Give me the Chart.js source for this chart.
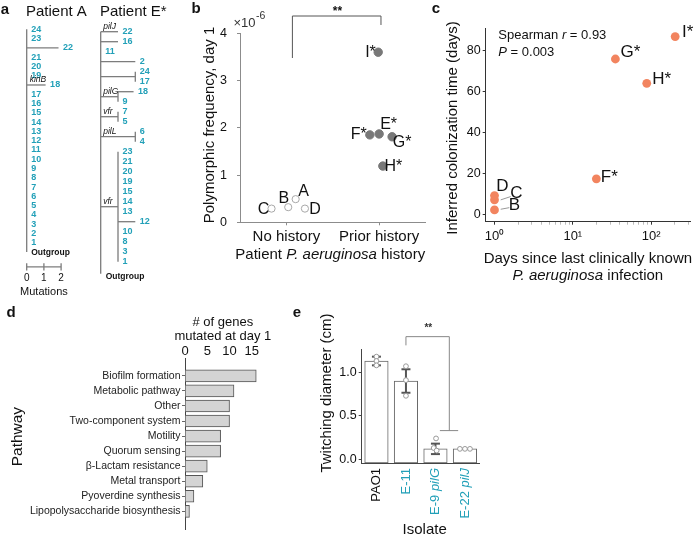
<!DOCTYPE html>
<html>
<head>
<meta charset="utf-8">
<script src="https://cdn.jsdelivr.net/npm/chart.js@4.4.1/dist/chart.umd.min.js"></script>
<style>
  html, body { margin: 0; padding: 0; background: #fff; }
  #fig { position: relative; width: 698px; height: 537px; overflow: hidden; }
  canvas { position: absolute; }
</style>
</head>
<body>
<div id="fig">
  <canvas id="treeA" width="95" height="300" style="left:0;top:0"></canvas>
  <canvas id="treeE" width="100" height="290" style="left:95px;top:0"></canvas>
  <canvas id="panelB" width="250" height="300" style="left:185px;top:0"></canvas>
  <canvas id="panelC" width="288" height="300" style="left:410px;top:0"></canvas>
  <canvas id="panelD" width="280" height="237" style="left:0;top:300px"></canvas>
  <canvas id="panelE" width="205" height="237" style="left:280px;top:300px"></canvas>
</div>
<script>
// ---------- data ----------
// a: phylogenies (branch lengths in mutations, leaves listed top to bottom)
const treeALeaves = ['24','23','22','21','20','19','18','17','16','15','14','13','12','11','10','9','8','7','6','5','4','3','2','1'];
const treeABranch = [0, 0, 1.85, 0, 0, 0, 1.1, 0, 0, 0, 0, 0, 0, 0, 0, 0, 0, 0, 0, 0, 0, 0, 0, 0];
const treeAGeneLeaf = ['18'];
const treeAGeneName = ['kinB'];
const scaleBarTicks = [0, 1, 2];

const treeELeaves = ['22','16','11','2','24','17','18','9','7','5','6','4','23','21','20','19','15','14','13','12','10','8','3','1'];
const treeEClade  = [-1, -1, -1, -1, 0, 0, 1, 1, 2, 2, 3, 3, 4, 4, 4, 4, 4, 4, 4, 4, 4, 4, 4, 4];
const treeETip    = [1, 1, 0, 2, 2, 2, 1.9, 1, 1, 1, 2, 2, 1, 1, 1, 1, 1, 1, 1, 2, 1, 1, 1, 1];
const treeECladeDepth = [2, 1, 1, 2, 1];
const treeECladeGene  = ['', 'pilG', 'vfr', 'pilL', 'vfr'];
const treeEGeneLeaf = ['22'];
const treeEGeneName = ['pilJ'];

// b: polymorphic frequency (x 10^-6)
const bCategories = ['No history', 'Prior history'];
const bPatients = ['A', 'B', 'C', 'D', 'E*', 'F*', 'G*', 'H*', 'I*'];
const bGroup = [0, 0, 0, 0, 1, 1, 1, 1, 1];
const bFreq = [0.49, 0.32, 0.29, 0.29, 1.87, 1.85, 1.81, 1.19, 3.60];
const bYTicks = [0, 1, 2, 3, 4];

// c: colonization time vs days since last infection
const cPatients = ['B', 'C', 'D', 'F*', 'G*', 'H*', 'I*'];
const cDays = [1, 1, 1, 20, 35, 88, 203];
const cColonization = [2.4, 7.3, 9.4, 17.5, 75.7, 63.9, 86.6];
const cXTicks = [1, 10, 100];
const cXTickLabels = ['10⁰', '10¹', '10²'];
const cYTicks = [0, 20, 40, 60, 80];

// d: genes mutated per pathway
const dPathways = ['Biofilm formation', 'Metabolic pathway', 'Other', 'Two-component system', 'Motility',
  'Quorum sensing', 'β-Lactam resistance', 'Metal transport', 'Pyoverdine synthesis', 'Lipopolysaccharide biosynthesis'];
const dGenes = [16, 11, 10, 10, 8, 8, 5, 4, 2, 1];
const dXTicks = [0, 5, 10, 15];

// e: twitching motility
const eIsolates = ['PAO1', 'E-11', 'E-9', 'E-22'];
const eGenes = ['', '', 'pilG', 'pilJ'];
const eMean = [1.13, 0.90, 0.12, 0.12];
const eSd = [0.05, 0.135, 0.06, 0];
const eReps = [[1.18, 1.13, 1.08], [1.07, 0.91, 0.73], [0.24, 0.13, 0.10], [0.12, 0.12, 0.12]];
const eYTicks = [0, 0.5, 1.0];

// ---------- styling / layout ----------
const FONT = "'Liberation Sans', Arial, Helvetica, sans-serif";
const CYAN = '#22a0b8';
const CORAL = '#f2845f';
const TREE = '#7c7c7c';

// label offsets (px) around the points
const bLabelDx = [8, -4.5, -8, 10, 9.5, -11, 10, 10.5, -7.7];
const bLabelDy = [-7.6, -8.3, 1.3, 1.3, -9, 0, 5.6, 0.7, 0];
const bJitter = [0.10, 0.02, -0.16, 0.20, 0.00, -0.10, 0.14, 0.04, -0.01];
const cLabelDx = [20, 22, 8, 13, 15, 15, 12.6];
const cLabelDy = [-4.5, -7, -9, -1.5, -6.7, -4.3, -4.4];
const eJitter = [[0, 0, 0], [0, 0, 0], [0.02, -0.06, 0.04], [-0.17, 0, 0.17]];

Chart.defaults.font.family = FONT;
Chart.defaults.color = '#222';
Chart.defaults.animation = false;
Chart.defaults.responsive = false;
Chart.defaults.plugins.legend.display = false;
Chart.defaults.plugins.tooltip.enabled = false;
Chart.defaults.events = [];

function text(ctx, parts, x, y, size, o = {}) {
  ctx.save();
  ctx.translate(x, y);
  if (o.rotate) ctx.rotate(o.rotate);
  ctx.textBaseline = o.baseline || 'middle';
  ctx.textAlign = 'left';
  ctx.fillStyle = o.color || '#111';
  const f = s => (s ? s + ' ' : '') + size + 'px ' + FONT;
  const widths = parts.map(([t, s]) => { ctx.font = f(s); return ctx.measureText(t).width; });
  const total = widths.reduce((a, b) => a + b, 0);
  let cx = o.align === 'left' ? 0 : o.align === 'right' ? -total : -total / 2;
  parts.forEach(([t, s], i) => { ctx.font = f(s); ctx.fillText(t, cx, 0); cx += widths[i]; });
  ctx.restore();
  return total;
}

function line(ctx, pts, color, w) {
  ctx.save();
  ctx.strokeStyle = color;
  ctx.lineWidth = w;
  ctx.beginPath();
  pts.forEach(([px, py], i) => i ? ctx.lineTo(px, py) : ctx.moveTo(px, py));
  ctx.stroke();
  ctx.restore();
}

// axis bounds so that value 0 lands on originPx
function span(originPx, pxPerUnit, sizePx) {
  return { min: -originPx / pxPerUnit, max: (sizePx - originPx) / pxPerUnit };
}

function seg(a, b) {
  return {
    data: [{ x: a[0], y: a[1] }, { x: b[0], y: b[1] }],
    showLine: true, borderColor: TREE, borderWidth: 1.3, pointRadius: 0, clip: false
  };
}

function hiddenScales(xs, ys) {
  return {
    x: { type: 'linear', display: false, ...xs },
    y: { type: 'linear', display: false, reverse: true, ...ys }
  };
}

// ---------- a: patient A tree ----------
const SB_ROW = 25.6;
const segA = [seg([0, 0], [0, treeALeaves.length])];
treeABranch.forEach((len, i) => { if (len > 0) segA.push(seg([0, i], [len, i])); });
segA.push(seg([scaleBarTicks[0], SB_ROW], [scaleBarTicks[scaleBarTicks.length - 1], SB_ROW]));
scaleBarTicks.forEach(t => segA.push(seg([t, SB_ROW - 0.38], [t, SB_ROW + 0.38])));

new Chart(document.getElementById('treeA'), {
  type: 'scatter',
  data: { datasets: segA },
  options: {
    layout: { autoPadding: false },
    scales: hiddenScales(span(26.7, 17.2, 95), span(29.3, 9.28, 300))
  },
  plugins: [{
    id: 'treeALabels',
    afterDraw(chart) {
      const { ctx, scales: { x, y } } = chart;
      text(ctx, [['a', 'bold']], 5, 10, 15);
      text(ctx, [['Patient A', '']], 26, 12, 15, { align: 'left' });
      treeALeaves.forEach((leaf, i) =>
        text(ctx, [[leaf, 'bold']], x.getPixelForValue(treeABranch[i]) + 4.5, y.getPixelForValue(i), 9, { align: 'left', color: CYAN }));
      text(ctx, [['Outgroup', 'bold']], x.getPixelForValue(0) + 4.5, y.getPixelForValue(treeALeaves.length) + 0.5, 8.5, { align: 'left' });
      treeAGeneLeaf.forEach((leaf, k) => {
        const i = treeALeaves.indexOf(leaf);
        text(ctx, [[treeAGeneName[k], 'italic']], x.getPixelForValue(0) + 3, y.getPixelForValue(i) - 1.5, 8.5, { align: 'left', baseline: 'bottom' });
      });
      scaleBarTicks.forEach(t => text(ctx, [[String(t), '']], x.getPixelForValue(t), y.getPixelForValue(SB_ROW) + 11, 10));
      const mid = (x.getPixelForValue(scaleBarTicks[0]) + x.getPixelForValue(scaleBarTicks[scaleBarTicks.length - 1])) / 2;
      text(ctx, [['Mutations', '']], mid, y.getPixelForValue(SB_ROW) + 25, 11);
    }
  }]
});

// ---------- a: patient E* tree ----------
const E_OUT_ROW = 24.2;
const segE = [seg([0, 0], [0, E_OUT_ROW])];
treeELeaves.forEach((leaf, i) => {
  if (treeEClade[i] < 0 && treeETip[i] > 0) segE.push(seg([0, i], [treeETip[i], i]));
});
const cladeRows = treeECladeDepth.map((d, c) => treeEClade.map((k, i) => k === c ? i : -1).filter(i => i >= 0));
treeECladeDepth.forEach((d, c) => {
  const rows = cladeRows[c];
  const lo = Math.min(...rows), hi = Math.max(...rows), mid = (lo + hi) / 2;
  segE.push(seg([0, mid], [d, mid]));
  segE.push(seg([d, lo], [d, hi]));
  rows.forEach(i => { if (treeETip[i] > d) segE.push(seg([d, i], [treeETip[i], i])); });
});

new Chart(document.getElementById('treeE'), {
  type: 'scatter',
  data: { datasets: segE },
  options: {
    layout: { autoPadding: false },
    scales: hiddenScales(span(5.7, 17.3, 100), span(31.7, 10.0, 290))
  },
  plugins: [{
    id: 'treeELabels',
    afterDraw(chart) {
      const { ctx, scales: { x, y } } = chart;
      text(ctx, [['Patient E*', '']], 5, 12, 15, { align: 'left' });
      treeELeaves.forEach((leaf, i) =>
        text(ctx, [[leaf, 'bold']], x.getPixelForValue(treeETip[i]) + 4.5, y.getPixelForValue(i), 9, { align: 'left', color: CYAN }));
      text(ctx, [['Outgroup', 'bold']], x.getPixelForValue(0) + 5, y.getPixelForValue(E_OUT_ROW) + 3, 8.5, { align: 'left' });
      const x0 = x.getPixelForValue(0) + 2.5;
      treeEGeneLeaf.forEach((leaf, k) => {
        const i = treeELeaves.indexOf(leaf);
        text(ctx, [[treeEGeneName[k], 'italic']], x0, y.getPixelForValue(i) - 1.2, 8.5, { align: 'left', baseline: 'bottom' });
      });
      treeECladeGene.forEach((g, c) => {
        if (!g) return;
        const rows = cladeRows[c];
        const mid = (Math.min(...rows) + Math.max(...rows)) / 2;
        text(ctx, [[g, 'italic']], x0, y.getPixelForValue(mid) - 1.2, 8.5, { align: 'left', baseline: 'bottom' });
      });
    }
  }]
});

// ---------- b ----------
const AX_B = '#8c8c8c';
new Chart(document.getElementById('panelB'), {
  type: 'scatter',
  data: {
    datasets: [{
      data: bFreq.map((v, i) => ({ x: bGroup[i] + 1 + bJitter[i], y: v })),
      pointRadius: c => bGroup[c.dataIndex] ? 4.2 : 3.6,
      pointBackgroundColor: c => bGroup[c.dataIndex] ? '#787878' : '#fff',
      pointBorderColor: c => bGroup[c.dataIndex] ? '#787878' : '#a8a8a8',
      pointBorderWidth: 1,
      clip: false
    }]
  },
  options: {
    layout: { autoPadding: false, padding: { left: 0, top: 33.3, right: 9.5, bottom: 0 } },
    scales: {
      x: {
        type: 'linear', min: 0.5, max: 2.5,
        afterFit: s => { s.height = 300 - 222.3; },
        afterBuildTicks: s => { s.ticks = bCategories.map((c, i) => ({ value: i + 1 })); },
        ticks: { callback: v => bCategories[v - 1], font: { size: 15 }, padding: 2.4, maxRotation: 0, autoSkip: false, color: '#111' },
        grid: { display: true, drawOnChartArea: false, tickLength: 3, color: AX_B },
        border: { color: AX_B }
      },
      y: {
        min: 0, max: 4,
        afterFit: s => { s.width = 55; },
        afterBuildTicks: s => { s.ticks = bYTicks.map(v => ({ value: v })); },
        ticks: { font: { size: 12.5 }, padding: 10, color: '#111' },
        grid: { display: true, drawOnChartArea: false, tickLength: 3, color: AX_B },
        border: { color: AX_B }
      }
    }
  },
  plugins: [{
    id: 'bAnnot',
    afterDraw(chart) {
      const { ctx, chartArea: ca, scales: { x, y } } = chart;
      text(ctx, [['b', 'bold']], 11, 9, 15);
      const w = text(ctx, [['×10', '']], ca.left - 6.5, ca.top - 10, 13, { align: 'left', color: '#333' });
      text(ctx, [['-6', '']], ca.left - 6 + w, ca.top - 17, 10.5, { align: 'left', color: '#333' });
      text(ctx, [['Polymorphic frequency, day 1', '']], ca.left - 30, (ca.top + ca.bottom) / 2 - 2.8, 15, { rotate: -Math.PI / 2 });
      text(ctx, [['Patient ', ''], ['P. aeruginosa', 'italic'], [' history', '']], (ca.left + ca.right) / 2 - 2.5, ca.bottom + 33, 15);
      const meta = chart.getDatasetMeta(0);
      meta.data.forEach((pt, i) => text(ctx, [[bPatients[i], '']], pt.x + bLabelDx[i], pt.y + bLabelDy[i], 16));
      const xl = x.getPixelForValue(1.065), xr = x.getPixelForValue(2.02), yt = y.getPixelForValue(4.366);
      line(ctx, [[xl, y.getPixelForValue(3.477)], [xl, yt], [xr, yt], [xr, y.getPixelForValue(4.176)]], '#555', 1);
      text(ctx, [['**', 'bold']], x.getPixelForValue(1.55), y.getPixelForValue(4.45), 12);
    }
  }]
});

// ---------- c ----------
const AX_C = '#333';
new Chart(document.getElementById('panelC'), {
  type: 'scatter',
  data: {
    datasets: [{
      data: cDays.map((d, i) => ({ x: d, y: cColonization[i] })),
      pointRadius: 4.4, pointBackgroundColor: CORAL, pointBorderWidth: 0, clip: false
    }]
  },
  options: {
    layout: { autoPadding: false, padding: { left: 0, top: 28.3, right: 8, bottom: 0 } },
    scales: {
      x: {
        type: 'logarithmic', min: 0.772, max: 314,
        afterFit: s => { s.height = 300 - 221.7; },
        afterBuildTicks: s => {
          const t = [];
          cXTicks.forEach(d => { for (let k = 1; k <= 9; k++) { const v = k * d; if (v >= s.min && v <= s.max) t.push({ value: v, major: k === 1 }); } });
          s.ticks = t;
        },
        ticks: {
          callback: v => { const i = cXTicks.indexOf(v); return i >= 0 ? cXTickLabels[i] : ''; },
          font: { size: 13 }, padding: 4, maxRotation: 0, autoSkip: false, color: '#111'
        },
        grid: {
          display: true, drawOnChartArea: false, tickLength: 3,
          tickColor: c => c.tick && cXTicks.includes(c.tick.value) ? AX_C : '#bbb'
        },
        border: { color: AX_C }
      },
      y: {
        min: -3.3, max: 90.6,
        afterFit: s => { s.width = 75.7; },
        afterBuildTicks: s => { s.ticks = cYTicks.map(v => ({ value: v })); },
        ticks: { font: { size: 12.5 }, padding: 2, color: '#111' },
        grid: { display: true, drawOnChartArea: false, tickLength: 3, color: AX_C },
        border: { color: AX_C }
      }
    }
  },
  plugins: [{
    id: 'cAnnot',
    afterDraw(chart) {
      const { ctx, chartArea: ca } = chart;
      text(ctx, [['c', 'bold']], 26, 9, 15);
      text(ctx, [['Spearman ', ''], ['r', 'italic'], [' = 0.93', '']], ca.left + 12.6, ca.top + 6.7, 13, { align: 'left' });
      text(ctx, [['P', 'italic'], [' = 0.003', '']], ca.left + 12.6, ca.top + 23.7, 13, { align: 'left' });
      text(ctx, [['Inferred colonization time (days)', '']], ca.left - 32.7, (ca.top + ca.bottom) / 2 + 3, 15, { rotate: -Math.PI / 2 });
      const cx = (ca.left + ca.right) / 2;
      text(ctx, [['Days since last clinically known', '']], cx, ca.bottom + 37, 15);
      text(ctx, [['P. aeruginosa', 'italic'], [' infection', '']], cx, ca.bottom + 54.5, 15);
      const meta = chart.getDatasetMeta(0);
      meta.data.forEach((pt, i) => text(ctx, [[cPatients[i], '']], pt.x + cLabelDx[i], pt.y + cLabelDy[i], 17));
      const pc = meta.data[cPatients.indexOf('C')], pb = meta.data[cPatients.indexOf('B')];
      line(ctx, [[pc.x + 6.2, pc.y], [pc.x + 16.2, pc.y - 3.3]], '#999', 1);
      line(ctx, [[pb.x + 6.2, pb.y - 0.7], [pb.x + 14.8, pb.y - 2.3]], '#999', 1);
    }
  }]
});

// ---------- d ----------
new Chart(document.getElementById('panelD'), {
  type: 'bar',
  data: {
    datasets: [{
      data: dGenes.map((v, i) => ({ x: v, y: i })),
      backgroundColor: '#d4d4d4', borderColor: '#555', borderWidth: 1, borderSkipped: false, barThickness: 12
    }]
  },
  options: {
    indexAxis: 'y',
    layout: { autoPadding: false, padding: { left: 0, top: 0, right: 19.3, bottom: 7 } },
    scales: {
      x: {
        type: 'linear', position: 'top', min: 0, max: 17, offset: false,
        afterFit: s => { s.height = 58; },
        afterBuildTicks: s => { s.ticks = dXTicks.map(v => ({ value: v })); },
        ticks: { font: { size: 13, lineHeight: 1 }, padding: 0, maxRotation: 0, color: '#111' },
        grid: { display: false, drawTicks: false },
        border: { display: false }
      },
      y: {
        type: 'linear', reverse: true, min: -1.19, max: 10.19, offset: false,
        afterFit: s => { s.width = 185; },
        afterBuildTicks: s => { s.ticks = dPathways.map((p, i) => ({ value: i })); },
        ticks: { callback: v => dPathways[v], font: { size: 10.5 }, padding: 1.5, autoSkip: false, color: '#222' },
        grid: { display: true, drawOnChartArea: false, offset: false, tickLength: 3, color: '#666' },
        border: { color: '#444' }
      }
    }
  },
  plugins: [{
    id: 'dAnnot',
    afterDraw(chart) {
      const { ctx, chartArea: ca } = chart;
      text(ctx, [['d', 'bold']], 11, 13, 15);
      const cx = (ca.left + ca.right) / 2;
      text(ctx, [['# of genes', '']], cx, ca.top - 36, 13);
      text(ctx, [['mutated at day 1', '']], cx, ca.top - 22, 13);
      text(ctx, [['Pathway', '']], 18, (ca.top + ca.bottom) / 2 - 7, 15.5, { rotate: -Math.PI / 2 });
    }
  }]
});

// ---------- e ----------
const E_Y_MIN = -0.0425;
new Chart(document.getElementById('panelE'), {
  type: 'bar',
  data: {
    datasets: [{
      type: 'bar', order: 2,
      data: eMean.map((m, i) => ({ x: i, y: m })),
      base: E_Y_MIN,
      backgroundColor: '#fff', borderColor: '#666', borderWidth: 1, borderSkipped: false, barThickness: 23.5
    }, {
      type: 'scatter', order: 1,
      data: eReps.flatMap((r, i) => r.map((v, k) => ({ x: i + eJitter[i][k], y: v }))),
      pointRadius: 2.4, pointBackgroundColor: '#fff', pointBorderColor: '#999', pointBorderWidth: 1
    }]
  },
  options: {
    layout: { autoPadding: false, padding: { left: 0, top: 49, right: 5.3, bottom: 0 } },
    scales: {
      x: {
        type: 'linear', min: -0.5, max: 3.5, offset: false,
        afterFit: s => { s.height = 74; },
        ticks: { display: false },
        grid: { display: false, drawTicks: false, offset: false },
        border: { color: '#444' }
      },
      y: {
        min: E_Y_MIN, max: 1.268,
        afterFit: s => { s.width = 81.7; },
        afterBuildTicks: s => { s.ticks = eYTicks.map(v => ({ value: v })); },
        ticks: { callback: v => v.toFixed(1), font: { size: 12.5 }, padding: 2, color: '#111' },
        grid: { display: true, drawOnChartArea: false, tickLength: 3, color: '#444' },
        border: { color: '#444' }
      }
    }
  },
  plugins: [{
    id: 'eAnnot',
    afterDatasetDraw(chart, args) {
      if (args.index !== 0) return;
      const { ctx, scales: { x, y } } = chart;
      eMean.forEach((m, i) => {
        if (!eSd[i]) return;
        const px = x.getPixelForValue(i), lo = y.getPixelForValue(m - eSd[i]), hi = y.getPixelForValue(m + eSd[i]);
        line(ctx, [[px, lo], [px, hi]], '#555', 2);
        line(ctx, [[px - 4.5, lo], [px + 4.5, lo]], '#555', 2);
        line(ctx, [[px - 4.5, hi], [px + 4.5, hi]], '#555', 2);
      });
    },
    afterDraw(chart) {
      const { ctx, chartArea: ca, scales: { x, y } } = chart;
      text(ctx, [['e', 'bold']], 17, 13, 15);
      const yt = y.getPixelForValue(1.41), xr = x.getPixelForValue(2.47), yb = y.getPixelForValue(0.33);
      line(ctx, [[x.getPixelForValue(1), y.getPixelForValue(1.31)], [x.getPixelForValue(1), yt], [xr, yt], [xr, yb]], '#888', 1);
      line(ctx, [[x.getPixelForValue(2.15), yb], [x.getPixelForValue(2.77), yb]], '#888', 1);
      text(ctx, [['**', 'bold']], x.getPixelForValue(1.76), y.getPixelForValue(1.506), 10, { color: '#333' });
      eIsolates.forEach((name, i) => {
        const parts = eGenes[i] ? [[name + ' ', ''], [eGenes[i], 'italic']] : [[name, '']];
        text(ctx, parts, x.getPixelForValue(i), ca.bottom + 5, 13, { rotate: -Math.PI / 2, align: 'right', color: i ? CYAN : '#111' });
      });
      text(ctx, [['Isolate', '']], (ca.left + ca.right) / 2 + 4, ca.bottom + 67, 15);
      text(ctx, [['Twitching diameter (cm)', '']], ca.left - 34.7, (ca.top + ca.bottom) / 2 - 13, 15, { rotate: -Math.PI / 2 });
    }
  }]
});
</script>
</body>
</html>
